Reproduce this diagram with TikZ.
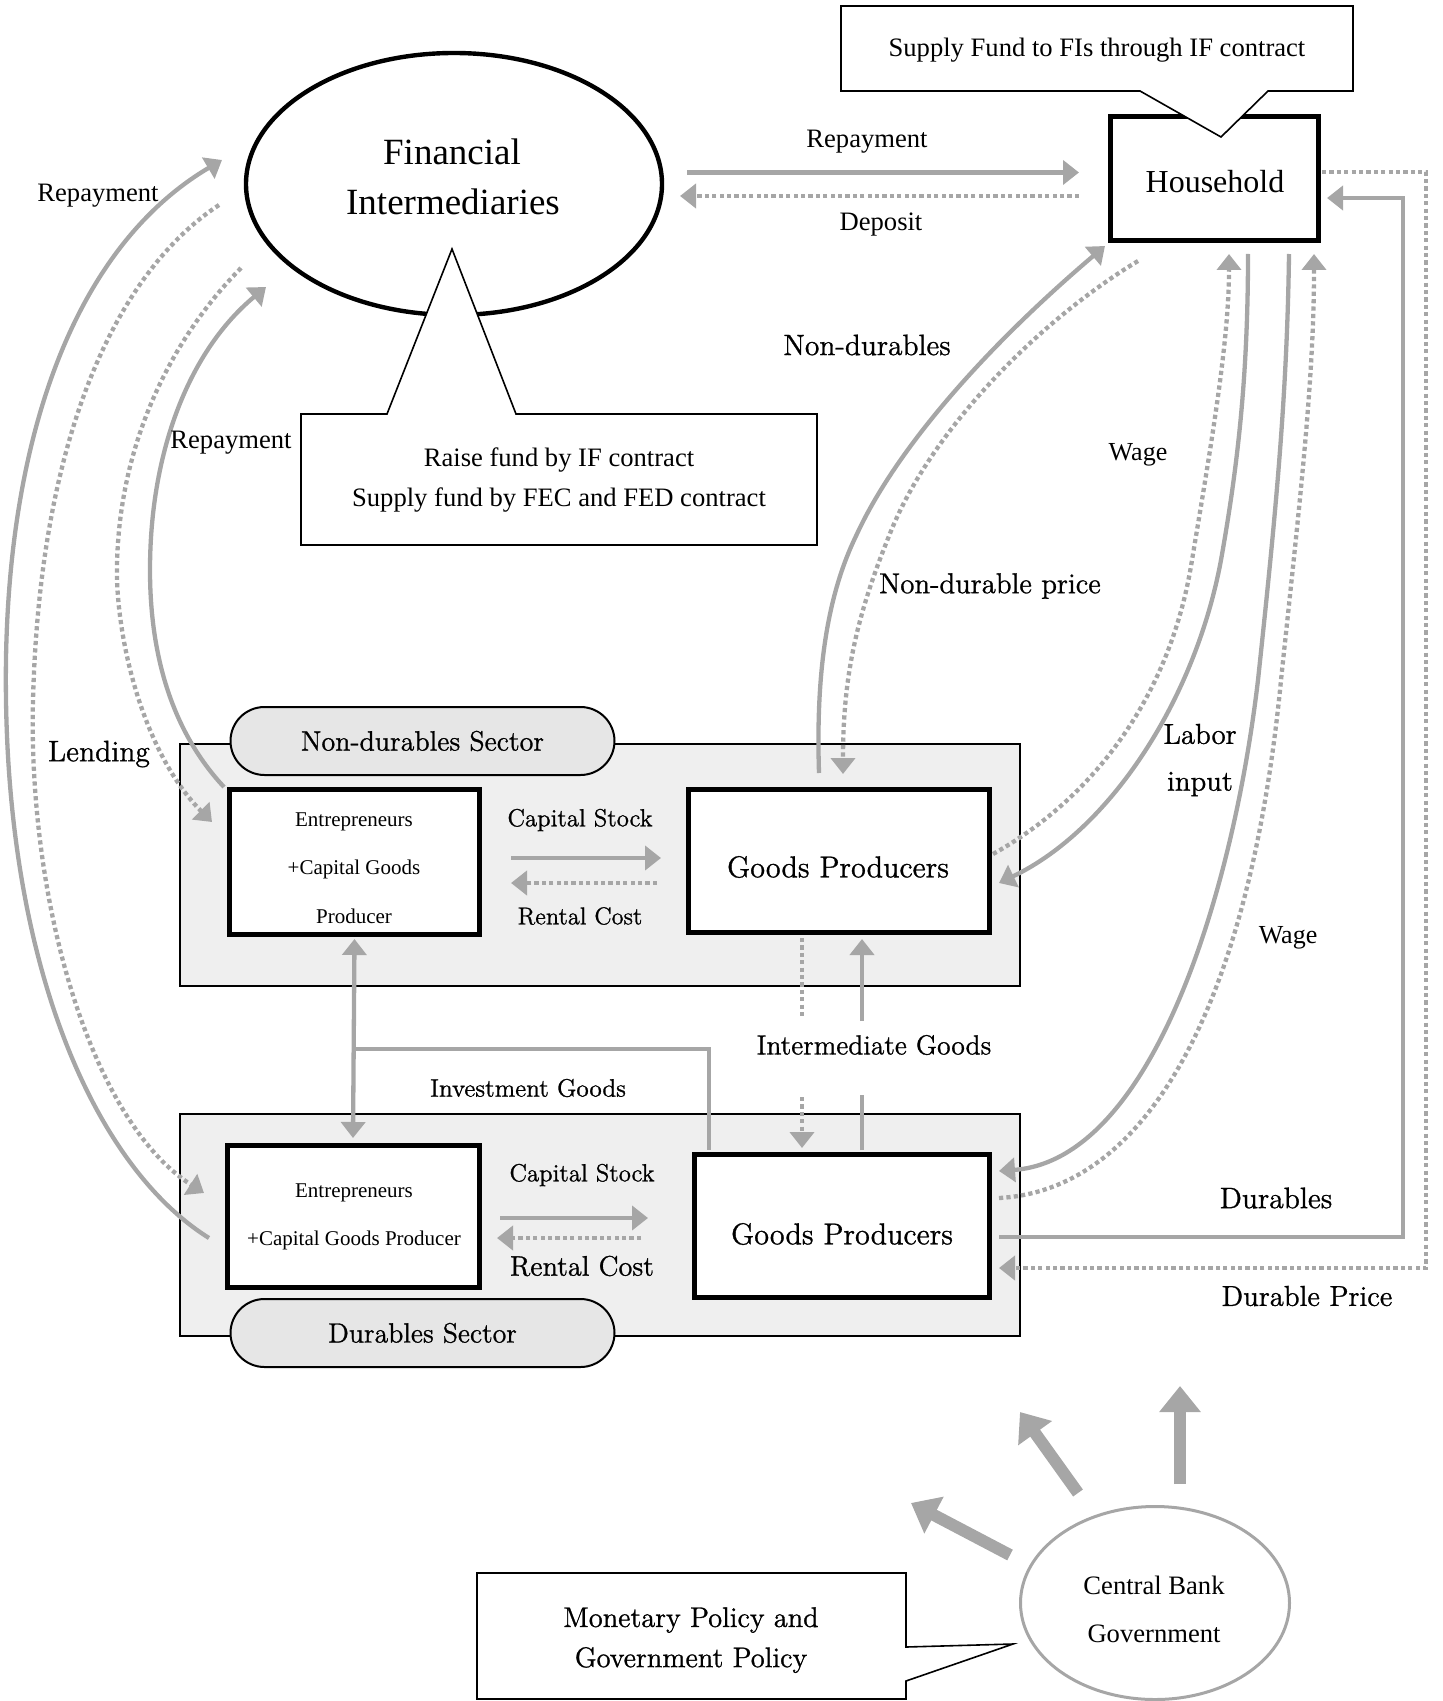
\documentclass[tikz,border=0pt]{standalone}
\usepackage{fontspec}
\newfontfamily\tms{Liberation Serif}
\newfontfamily\cent[FakeBold=1]{lmroman12-regular.otf}
\usetikzlibrary{arrows.meta,shapes.geometric}
\definecolor{lg}{HTML}{A6A6A6}
\definecolor{secfill}{HTML}{EFEFEF}
\definecolor{pillfill}{HTML}{E6E6E6}
\begin{document}
\begin{tikzpicture}[x=0.5pt,y=-0.5pt,
  tt/.style={font=\tms\fontsize{#1}{#1}\selectfont, inner sep=0pt},
  lm/.style={font=\cent\fontsize{#1}{#1}\selectfont, inner sep=0pt},
  gl/.style={draw=lg, line width=2.15pt},
  gd/.style={draw=lg, line width=2.15pt, dash pattern=on 2.1pt off 1.6pt},
  ar/.style={-{Triangle[length=8pt,width=12pt]}},
  dar/.style={{Triangle[length=8pt,width=12pt]}-{Triangle[length=8pt,width=12pt]}},
  bigar/.style={draw=lg, line width=6pt, -{Triangle[length=13pt,width=20pt]}},
  thickbox/.style={draw, line width=2.5pt, fill=white, inner sep=0pt},
  secbox/.style={draw, line width=0.75pt, fill=secfill, inner sep=0pt},
  pill/.style={draw, line width=1pt, fill=pillfill, rounded corners=17pt, inner sep=0pt},
  callout/.style={draw, line width=0.8pt, fill=white}
]
\useasboundingbox (0,0) rectangle (1442,1701);

% ---------- Financial intermediaries ----------
\node[draw, ellipse, line width=2.2pt, minimum width=208pt, minimum height=131pt, inner sep=0pt] (fi) at (454,184) {};
\draw[callout] (301,414) -- (387,414) -- (452,249) -- (516,414) -- (817,414) -- (817,545) -- (301,545) -- cycle;
\node[tt=18.5] (fiA) at (452,152) {Financial};
\node[tt=18.5] (fiB) at (453,202) {Intermediaries};
\node[tt=13.3] (fiC1) at (559,460) {Raise fund by IF contract};
\node[tt=13.3] (fiC2) at (559,500) {Supply fund by FEC and FED contract};

% ---------- Household ----------
\node[thickbox, minimum width=104pt, minimum height=62pt] (hh) at (1214.5,178.5) {};
\draw[callout] (841,6) -- (1353,6) -- (1353,91) -- (1268,91) -- (1221,137) -- (1140,91) -- (841,91) -- cycle;
\node[tt=13.3] (hhC) at (1097,50) {Supply Fund to FIs through IF contract};
\node[tt=16] (hhT) at (1215,182) {Household};

% ---------- Sectors ----------
\node[secbox, minimum width=420pt, minimum height=121pt] (secN) at (600,865) {};
\node[secbox, minimum width=420pt, minimum height=111pt] (secD) at (600,1225) {};
\node[pill, minimum width=192pt, minimum height=34pt, lm=14] (pillN) at (422.5,741) {Non-durables Sector};
\node[pill, minimum width=192pt, minimum height=34pt, lm=13.9] (pillD) at (422.5,1333) {Durables Sector};

\node[thickbox, minimum width=125pt, minimum height=72.5pt] (entN) at (354.5,862) {};
\node[align=center, inner sep=0pt, font=\tms\fontsize{10.5}{24.25}\selectfont] (entNt) at (354,868) {Entrepreneurs\\+Capital Goods\\Producer};
\node[thickbox, minimum width=126pt, minimum height=71pt] (entD) at (353.5,1216.5) {};
\node[align=center, inner sep=0pt, font=\tms\fontsize{10.5}{24}\selectfont] (entDt) at (354,1217) {Entrepreneurs\\+Capital Goods Producer};

\node[thickbox, minimum width=150.5pt, minimum height=71.5pt] (gpN) at (839,861) {};
\node[lm=15.1] (gpNt) at (838,867) {Goods Producers};
\node[thickbox, minimum width=147.5pt, minimum height=71.5pt] (gpD) at (842,1226) {};
\node[lm=15.1] (gpDt) at (842,1234) {Goods Producers};

% capital stock / rental cost
\node[lm=12.4] (csN) at (580,820) {Capital Stock};
\node[lm=12.2] (rcN) at (580,916) {Rental Cost};
\draw[gl,ar] (511,858) -- (661,858);
\draw[gd,ar] (657,883) -- (511,883);
\node[lm=12.4] (csD) at (582,1175) {Capital Stock};
\node[lm=14.1] (rcD) at (582,1266) {Rental Cost};
\draw[gl,ar] (500,1218) -- (648,1218);
\draw[gd,ar] (641,1238) -- (497,1238);

% investment goods
\draw[gl,dar] (entN.south) ++(0,2) -- (353,1138);
\draw[gl] (353,1049) -- (709,1049) -- (709,1150);
\node[lm=12.6] (ig) at (528,1088) {Investment Goods};

% intermediate goods
\node[lm=13.8] (img) at (874,1045) {Intermediate Goods};
\draw[gd] (802,938) -- (802,1017);
\draw[gd,ar] (802,1097) -- (802,1148);
\draw[gl] (862,1150) -- (862,1095);
\draw[gl,ar] (862,1021) -- (862,939);

% ---------- FI <-> Household ----------
\draw[gl,ar] (687,172.5) -- (1079,172.5);
\draw[gd,ar] (1079,196) -- (680,196);
\node[tt=13.3] (rpH) at (867,142) {Repayment};
\node[tt=13.3] (dep) at (881,225) {Deposit};

% ---------- left loops ----------
\draw[gl,ar] (209,1238) .. controls (100,1170) and (10,980) .. (6,700) .. controls (2,450) and (70,250) .. (222,160);
\draw[gd,ar] (219,205) .. controls (120,270) and (40,430) .. (33,700) .. controls (28,900) and (90,1120) .. (204,1193);
\draw[gd,ar] (241,268) .. controls (170,340) and (115,450) .. (117,580) .. controls (120,660) and (150,760) .. (212,822);
\draw[gl,ar] (224,787) .. controls (180,740) and (150,670) .. (150,570) .. controls (150,450) and (190,350) .. (266,287);
\node[tt=13.3] (rp1) at (98,196) {Repayment};
\node[tt=13.3] (rp2) at (231,443) {Repayment};
\node[lm=14.8] (lend) at (99,754) {Lending};

% ---------- household <-> producers ----------
\draw[gl,ar] (819,773) .. controls (816,680) and (825,600) .. (856,536) .. controls (900,440) and (1000,335) .. (1105,246);
\draw[gd,ar] (1138,261) .. controls (1040,320) and (930,430) .. (889,536) .. controls (855,620) and (843,680) .. (843,774);
\draw[gd,ar] (993,854) .. controls (1090,800) and (1170,700) .. (1192,560) .. controls (1212,440) and (1229,340) .. (1229,254);
\draw[gl,ar] (1248,254) .. controls (1248,380) and (1237,470) .. (1221,560) .. controls (1195,700) and (1110,830) .. (999,883);
\draw[gl,ar] (1289,254) .. controls (1287,400) and (1275,520) .. (1258,680) .. controls (1232,900) and (1150,1160) .. (999,1171);
\draw[gd,ar] (999,1198) .. controls (1150,1190) and (1250,1000) .. (1281,680) .. controls (1300,500) and (1314,380) .. (1314,254);
\draw[gd,ar] (1322,172) -- (1426,172) -- (1426,1268) -- (999,1268);
\draw[gl,ar] (999,1237) -- (1403,1237) -- (1403,198) -- (1327,198);

\node[lm=14.7] (ndl) at (867,345) {Non-durables};
\node[tt=13] (wg1) at (1138,455) {Wage};
\node[lm=14.4] (ndp) at (990,586) {Non-durable price};
\node[lm=14.4] (lab1) at (1200,734) {Labor};
\node[lm=14.4] (lab2) at (1200,784) {input};
\node[tt=13] (wg2) at (1288,938) {Wage};
\node[lm=14.8] (dur) at (1276,1198) {Durables};
\node[lm=14.4] (durp) at (1307,1296) {Durable Price};

% ---------- central bank ----------
\node[draw=lg, line width=1.5pt, ellipse, minimum width=134.5pt, minimum height=96.5pt, inner sep=0pt] (cb) at (1155,1603) {};
\node[tt=13.3] (cbA) at (1154,1585) {Central Bank};
\node[tt=13.3] (cbB) at (1154,1634) {Government};
\draw[bigar] (1180,1484) -- (1180,1386);
\draw[bigar] (1078,1493) -- (1020,1412);
\draw[bigar] (1010,1555) -- (911,1503);
\draw[callout] (477,1573) -- (906,1573) -- (906,1647) -- (1013,1644) -- (906,1681) -- (906,1699) -- (477,1699) -- cycle;
\node[lm=14.2] (mp1) at (691,1620) {Monetary Policy and};
\node[lm=14.2] (mp2) at (691,1660) {Government Policy};
\end{tikzpicture}
\end{document}
